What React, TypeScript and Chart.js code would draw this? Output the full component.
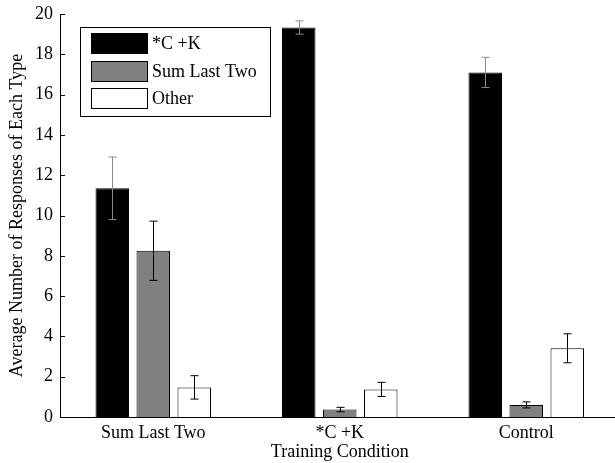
import React, { useEffect, useRef } from "react";
import { Chart, registerables } from "chart.js";

Chart.register(...registerables);

const categories = ["Sum Last Two", "*C +K", "Control"];
const seriesLabels = ["*C +K", "Sum Last Two", "Other"];
const seriesColors = ["#000000", "#808080", "#ffffff"];
const errColors = ["#8a8a8a", "#000000", "#000000"];
const ckValues = [11.35, 19.33, 17.1];
const ckErrors = [1.55, 0.33, 0.75];
const sltValues = [8.25, 0.37, 0.6];
const sltErrors = [1.47, 0.11, 0.15];
const otherValues = [1.47, 1.37, 3.41];
const otherErrors = [0.58, 0.35, 0.72];
const yTicks = [0, 2, 4, 6, 8, 10, 12, 14, 16, 18, 20];

const FONT = "'Liberation Serif', 'Times New Roman', serif";

const errorBarPlugin = {
  id: "errorBars",
  afterDatasetsDraw(chart: any) {
    const ctx = chart.ctx;
    const y = chart.scales.y;
    chart.data.datasets.forEach((ds: any, i: number) => {
      const meta = chart.getDatasetMeta(i);
      meta.data.forEach((el: any, j: number) => {
        const v = ds.data[j];
        const e = ds.errors[j];
        const x = Math.round(el.x) + 0.5;
        const yt = y.getPixelForValue(v + e);
        const yb = y.getPixelForValue(v - e);
        ctx.save();
        ctx.strokeStyle = ds.errColor;
        ctx.lineWidth = 1;
        ctx.beginPath();
        ctx.moveTo(x, yt);
        ctx.lineTo(x, yb);
        ctx.moveTo(x - 4, yt);
        ctx.lineTo(x + 4, yt);
        ctx.moveTo(x - 4, yb);
        ctx.lineTo(x + 4, yb);
        ctx.stroke();
        ctx.restore();
      });
    });
  },
};

const inwardTicksPlugin = {
  id: "inwardTicks",
  afterDraw(chart: any) {
    const ctx = chart.ctx;
    const y = chart.scales.y;
    const left = chart.chartArea.left;
    ctx.save();
    ctx.strokeStyle = "#000";
    ctx.lineWidth = 1;
    ctx.beginPath();
    y.ticks.forEach((t: any) => {
      const py = Math.round(y.getPixelForValue(t.value)) + 0.5;
      ctx.moveTo(left, py);
      ctx.lineTo(left + 5, py);
    });
    ctx.stroke();
    ctx.restore();
  },
};

const legendPlugin = {
  id: "boxLegend",
  afterDraw(chart: any) {
    const ctx = chart.ctx;
    ctx.save();
    ctx.fillStyle = "#fff";
    ctx.fillRect(80, 27, 190, 89);
    ctx.strokeStyle = "#000";
    ctx.lineWidth = 1;
    ctx.strokeRect(80.5, 27.5, 190, 89);
    const tops = [33, 61, 88];
    chart.data.datasets.forEach((ds: any, i: number) => {
      const t = tops[i];
      ctx.fillStyle = ds.backgroundColor;
      ctx.fillRect(91, t, 56, 21);
      ctx.strokeStyle = "#000";
      ctx.strokeRect(91.5, t + 0.5, 56, 20);
      ctx.fillStyle = "#000";
      ctx.font = `18px ${FONT}`;
      ctx.textBaseline = "middle";
      ctx.textAlign = "left";
      ctx.fillText(ds.label, 152, t + 11);
    });
    ctx.restore();
  },
};

export default function App() {
  const ref = useRef<HTMLCanvasElement>(null);
  useEffect(() => {
    if (!ref.current) return;
    const values = [ckValues, sltValues, otherValues];
    const errors = [ckErrors, sltErrors, otherErrors];
    const chart = new Chart(ref.current, {
      type: "bar",
      data: {
        labels: categories,
        datasets: seriesLabels.map((label, i) => ({
          label,
          data: values[i],
          errors: errors[i],
          errColor: errColors[i],
          backgroundColor: seriesColors[i],
          borderColor: "#000",
          borderWidth: 1,
          categoryPercentage: 0.6595,
          barPercentage: 0.817,
        })) as any,
      },
      options: {
        animation: false,
        responsive: false,
        devicePixelRatio: 1,
        layout: { padding: { left: 0, top: 14, right: 10.5, bottom: 0 } },
        plugins: { legend: { display: false }, tooltip: { enabled: false } },
        scales: {
          x: {
            offset: true,
            grid: { display: false, drawTicks: false },
            border: { display: true, color: "#000", width: 1 },
            ticks: { color: "#000", font: { family: FONT, size: 18 }, padding: 5 },
            title: {
              display: true,
              text: "Training Condition",
              color: "#000",
              font: { family: FONT, size: 18 },
              padding: { top: 0, bottom: 0 },
            },
            afterFit(s: any) {
              s.height = 46;
              s.paddingLeft = 0;
              s.paddingRight = 0;
            },
          },
          y: {
            min: 0,
            max: 20,
            afterBuildTicks(s: any) {
              s.ticks = yTicks.map((v) => ({ value: v }));
            },
            grid: { display: false, drawTicks: false },
            border: { display: true, color: "#000", width: 1 },
            ticks: { color: "#000", font: { family: FONT, size: 18 }, padding: 7 },
            title: {
              display: true,
              text: "Average Number of Responses of Each Type",
              color: "#000",
              font: { family: FONT, size: 18 },
              padding: { top: 6, bottom: 0 },
            },
            afterFit(s: any) {
              s.width = 60;
              s.paddingTop = 0;
              s.paddingBottom = 0;
            },
          },
        },
      },
      plugins: [errorBarPlugin, inwardTicksPlugin, legendPlugin],
    });
    return () => chart.destroy();
  }, []);
  return (
    <div
      style={{
        position: "absolute",
        left: 0,
        top: 0,
        width: 615,
        height: 463,
        overflow: "hidden",
        background: "#fff",
      }}
    >
      <canvas ref={ref} width={630} height={463} style={{ width: 630, height: 463, display: "block" }} />
    </div>
  );
}
